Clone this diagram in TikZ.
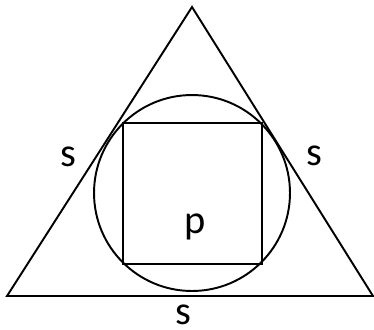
\documentclass[tikz,border=0pt]{standalone}
\usepackage{fontspec}
\setmainfont{Carlito}
\usetikzlibrary{positioning}

\tikzset{
  edge/.style={line width=1.1pt},
  lbl/.style={anchor=base,inner sep=0pt,font=\fontsize{23}{27}\selectfont}
}

\begin{document}
\begin{tikzpicture}[x=0.02cm,y=-0.02cm]
\useasboundingbox (0,0) rectangle (374,329);
% triangle
\draw[edge] (192,7) -- (373,296) -- (7,296) -- cycle;
% circle and square in it
\draw[edge] (192,193) circle (1.96cm);
\draw[edge] (123,123) rectangle (262,264);
\node[lbl] (sleft) at (68,166) {s};
\node[lbl] (sright) at (314,165) {s};
\node[lbl] (sbase) at (183,324.5) {s};
\node[lbl] (parea) at (195,233) {p};
\end{tikzpicture}
\end{document}
